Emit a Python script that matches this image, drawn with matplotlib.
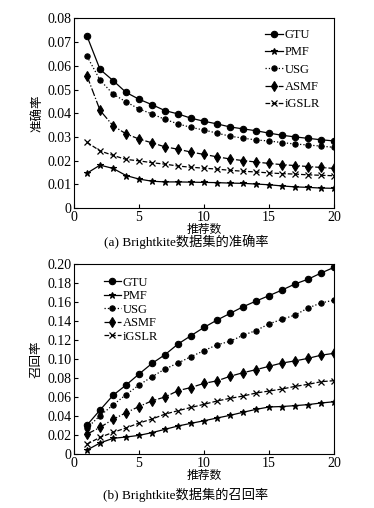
import matplotlib
matplotlib.use("Agg")
import matplotlib.pyplot as plt

plt.rcParams['font.family'] = ['Liberation Serif', 'Noto Sans CJK SC']
plt.rcParams['axes.unicode_minus'] = False

x = list(range(1, 21))

# (a) precision
prec_gtu = [0.0725, 0.0585, 0.0538, 0.0488, 0.0459, 0.0436, 0.0411, 0.0397, 0.0379, 0.0366,
            0.0355, 0.0342, 0.0334, 0.0326, 0.0316, 0.0307, 0.0300, 0.0294, 0.0288, 0.0283]
prec_pmf = [0.0147, 0.0181, 0.0167, 0.0137, 0.0122, 0.0113, 0.0110, 0.0110, 0.0109, 0.0108,
            0.0107, 0.0105, 0.0104, 0.0101, 0.0098, 0.0093, 0.0089, 0.0087, 0.0084, 0.0083]
prec_usg = [0.0640, 0.0540, 0.0481, 0.0448, 0.0418, 0.0397, 0.0374, 0.0355, 0.0340, 0.0329,
            0.0316, 0.0303, 0.0295, 0.0287, 0.0283, 0.0276, 0.0270, 0.0266, 0.0261, 0.0256]
prec_asmf = [0.0557, 0.0412, 0.0347, 0.0313, 0.0291, 0.0275, 0.0258, 0.0248, 0.0236, 0.0226,
             0.0216, 0.0207, 0.0200, 0.0194, 0.0188, 0.0183, 0.0179, 0.0175, 0.0171, 0.0167]
prec_igslr = [0.0277, 0.0241, 0.0222, 0.0205, 0.0199, 0.0191, 0.0185, 0.0177, 0.0172, 0.0168,
              0.0164, 0.0159, 0.0155, 0.0152, 0.0148, 0.0145, 0.0143, 0.0140, 0.0138, 0.0136]

# (b) recall
rec_gtu = [0.0305, 0.0463, 0.0618, 0.0726, 0.0842, 0.0954, 0.1046, 0.1158, 0.1246, 0.1333,
           0.1410, 0.1480, 0.1550, 0.1610, 0.1667, 0.1726, 0.1790, 0.1840, 0.1905, 0.1965]
rec_pmf = [0.0042, 0.0116, 0.0165, 0.0179, 0.0196, 0.0225, 0.0260, 0.0295, 0.0323, 0.0350,
           0.0379, 0.0407, 0.0439, 0.0470, 0.0495, 0.0500, 0.0509, 0.0520, 0.0537, 0.0550]
rec_usg = [0.0274, 0.0404, 0.0516, 0.0625, 0.0726, 0.0814, 0.0895, 0.0958, 0.1025, 0.1088,
           0.1150, 0.1186, 0.1250, 0.1300, 0.1370, 0.1418, 0.1463, 0.1537, 0.1590, 0.1620]
rec_asmf = [0.0210, 0.0280, 0.0365, 0.0435, 0.0500, 0.0560, 0.0600, 0.0667, 0.0700, 0.0744,
            0.0770, 0.0818, 0.0856, 0.0888, 0.0923, 0.0958, 0.0980, 0.1007, 0.1040, 0.1060]
rec_igslr = [0.0105, 0.0175, 0.0228, 0.0274, 0.0326, 0.0368, 0.0420, 0.0456, 0.0490, 0.0523,
             0.0558, 0.0586, 0.0610, 0.0642, 0.0663, 0.0684, 0.0712, 0.0733, 0.0761, 0.0772]

names = ['GTU', 'PMF', 'USG', 'ASMF', 'iGSLR']
styles = {
    'GTU': dict(ls='-', marker='o', ms=4.6),
    'PMF': dict(ls='-', marker='*', ms=5),
    'USG': dict(ls=':', marker='o', ms=3.8),
    'ASMF': dict(ls='-.', marker='d', ms=5),
    'iGSLR': dict(ls='--', marker='x', ms=4.2, mew=0.9),
}

fig = plt.figure(figsize=(3.74, 5.08), dpi=100)
ax1 = fig.add_axes([0.198, 0.5906, 0.6952, 0.373])
ax2 = fig.add_axes([0.198, 0.1063, 0.6952, 0.374])

def draw(ax, series, ylim, yticks, ylabels, ylabel, legloc, legbbox, lspace):
    for name, vals in zip(names, series):
        st = styles[name]
        ax.plot(x, vals, color='black', lw=0.9, ls=st['ls'], marker=st['marker'],
                ms=st['ms'], mew=st.get('mew', 0.8), mfc='black', mec='black', label=name)
    ax.set_xlim(0, 20)
    ax.set_ylim(*ylim)
    ax.set_xticks([0, 5, 10, 15, 20])
    ax.set_yticks(yticks)
    ax.set_yticklabels(ylabels)
    ax.tick_params(direction='in', length=3, width=0.8, labelsize=10, pad=2,
                   top=False, right=False)
    for s in ax.spines.values():
        s.set_linewidth(0.8)
    ax.set_xlabel('推荐数', fontsize=8.5, labelpad=0)
    ax.set_ylabel(ylabel, fontsize=9, labelpad=3)
    ax.legend(loc=legloc, bbox_to_anchor=legbbox, frameon=False, fontsize=9,
              handlelength=1.4, handletextpad=0.15, labelspacing=lspace, borderpad=0.2)

draw(ax1, [prec_gtu, prec_pmf, prec_usg, prec_asmf, prec_igslr], (0, 0.08),
     [0, 0.01, 0.02, 0.03, 0.04, 0.05, 0.06, 0.07, 0.08],
     ['0', '0.01', '0.02', '0.03', '0.04', '0.05', '0.06', '0.07', '0.08'],
     '准确率', 'upper right', (0.98, 0.99), 0.42)
draw(ax2, [rec_gtu, rec_pmf, rec_usg, rec_asmf, rec_igslr], (0, 0.20),
     [0, 0.02, 0.04, 0.06, 0.08, 0.10, 0.12, 0.14, 0.16, 0.18, 0.20],
     ['0', '0.02', '0.04', '0.06', '0.08', '0.10', '0.12', '0.14', '0.16', '0.18', '0.20'],
     '召回率', 'upper left', (0.08, 0.98), 0.12)

fig.text(0.497, 1 - 242 / 508, '(a) Brightkite数据集的准确率', ha='center', va='center', fontsize=9.5)
fig.text(0.497, 1 - 495 / 508, '(b) Brightkite数据集的召回率', ha='center', va='center', fontsize=9.5)

fig.savefig('out.png', dpi=100)
